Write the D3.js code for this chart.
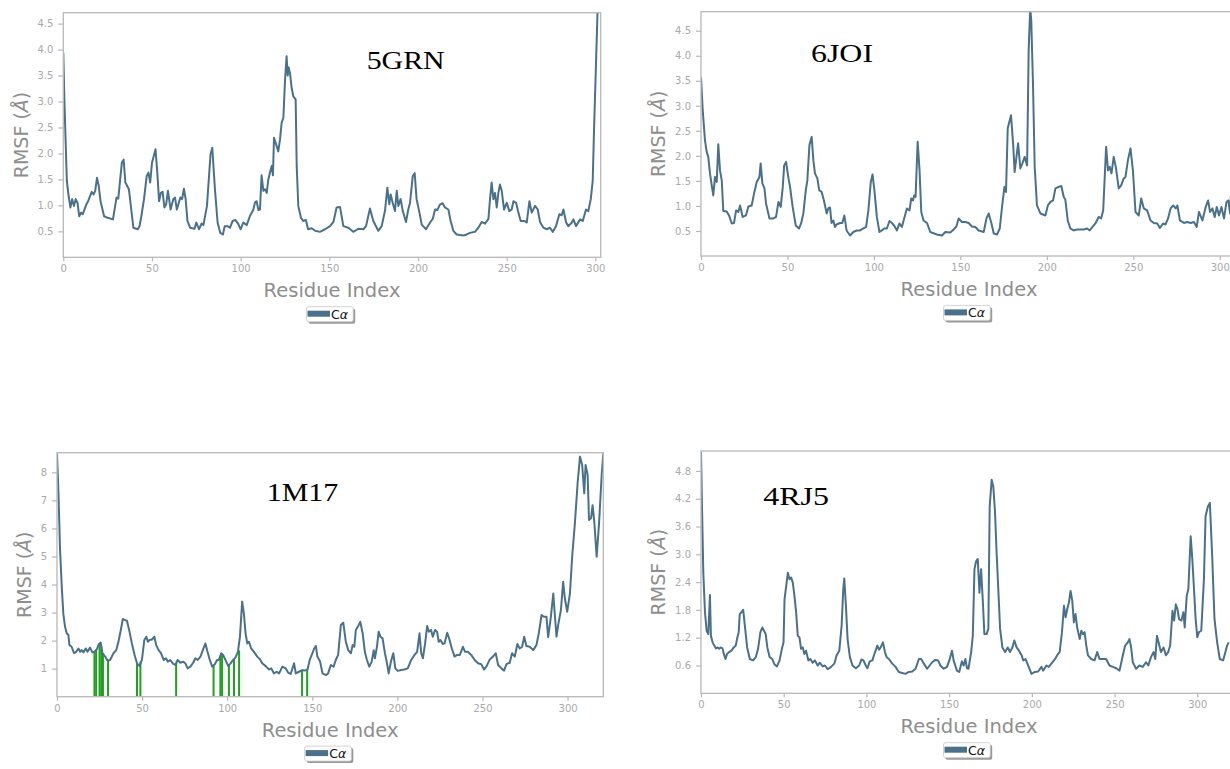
<!DOCTYPE html>
<html>
<head>
<meta charset="utf-8">
<script src="https://cdn.jsdelivr.net/npm/d3@7"></script>
<style>
  html, body { margin: 0; padding: 0; background: #fff; }
  svg { display: block; overflow: hidden; }
</style>
</head>
<body>
<svg id="chart" width="1230" height="769"></svg>
<script>
// RMSF of C-alpha atoms per residue, one array of [residue, RMSF] per structure
const rmsf5GRN = [[0,3.94],[0.6,3.04],[2,1.47],[3,1.18],[4,0.96],[5,1.12],[6,0.99],[7,1.12],[8,1.05],[9,0.79],[10,0.86],[11,0.83],[13,1.02],[14,1.08],[16,1.26],[17,1.21],[18,1.28],[19,1.53],[20,1.37],[21,1.08],[23,0.79],[25,0.76],[28,0.73],[30,1.15],[31,1.13],[33,1.82],[34,1.88],[35,1.44],[37,1.31],[39.5,0.57],[42,0.54],[43,0.60],[44,0.79],[45.5,1.12],[47,1.56],[48,1.63],[49,1.44],[50,1.82],[52,2.08],[53,1.63],[54,1.08],[55,1.24],[56,1.26],[57,0.96],[58,1.02],[59,1.28],[60.5,0.92],[62,1.12],[63,1.15],[64,0.92],[66,1.15],[67,1.12],[68,1.32],[69,1.12],[70,0.70],[71.5,0.57],[74,0.55],[75,0.67],[76.5,0.54],[78,0.65],[79,0.62],[81,0.99],[83,1.98],[84,2.11],[85.5,1.31],[87,0.67],[88.5,0.47],[90,0.44],[91,0.60],[92.5,0.60],[94,0.57],[95.5,0.70],[97,0.72],[98.5,0.65],[100,0.54],[101.5,0.67],[103.4,0.62],[105.3,0.80],[107.1,0.91],[108.1,1.06],[109,1.08],[110,0.91],[110.9,0.92],[111.8,1.58],[112.8,1.28],[113.7,1.31],[114.7,1.24],[115.6,1.50],[116.5,1.63],[117.5,1.76],[118.2,1.58],[118.8,2.30],[120.3,2.14],[121.2,2.04],[122.2,2.27],[123.1,2.59],[124.1,2.69],[125,3.40],[125.9,3.87],[126.5,3.50],[127,3.66],[127.8,3.55],[128.8,3.25],[129.7,3.10],[131,3.04],[131.6,1.76],[132.5,0.99],[134,0.76],[135.3,0.70],[136.8,0.72],[138,0.54],[140,0.56],[142,0.51],[144.7,0.49],[147.6,0.54],[150.4,0.60],[152.3,0.68],[154.1,0.96],[156,0.97],[157.9,0.60],[160.7,0.57],[163.5,0.49],[166.4,0.55],[169.2,0.54],[170.7,0.60],[172.9,0.94],[174.8,0.70],[177.6,0.51],[179.5,0.60],[181.4,0.90],[182.7,1.34],[183.8,1.02],[184.6,1.21],[185.7,1.05],[187,0.89],[188,1.28],[188.9,0.99],[190.2,1.12],[191.4,0.89],[193.2,0.68],[194.5,0.92],[195.5,1.05],[197,1.56],[198.1,1.62],[199.2,1.12],[200.8,0.86],[202.1,0.63],[204.5,0.54],[206.8,0.67],[208.3,0.74],[209.6,0.92],[210.9,0.91],[212.4,1.02],[213.9,1.04],[215.2,0.96],[217.1,0.92],[218.4,0.70],[219.9,0.51],[221.8,0.44],[225.6,0.42],[227.4,0.44],[229.3,0.47],[232.1,0.49],[234,0.57],[235.9,0.68],[237.8,0.65],[239.7,0.74],[240.6,1.12],[241.5,1.44],[242.5,1.12],[243.4,1.24],[244.4,0.96],[245.3,1.24],[246.2,1.40],[247.2,1.28],[248.5,0.92],[250,1.05],[251.5,0.89],[252.8,0.92],[253.8,1.08],[255.3,1.05],[256.6,0.86],[257.9,0.70],[259.8,0.70],[261.3,0.67],[262.8,1.08],[264.1,0.86],[266,0.99],[267.5,0.92],[268.8,0.68],[270.7,0.57],[272.6,0.54],[274.4,0.57],[276,0.49],[277.8,0.60],[279.7,0.83],[281,0.81],[282,0.92],[283.5,0.67],[284.8,0.60],[286.7,0.67],[287.6,0.73],[289.1,0.60],[291.4,0.73],[292.9,0.70],[294.7,0.92],[296,0.89],[297.4,1.12],[298.5,1.47],[299.2,2.40],[300.3,3.68],[301.2,4.72],[301.8,5.20]];

const rmsf6JOI = [[0,3.57],[1,2.91],[2.3,2.31],[3.3,2.08],[4.2,1.98],[5.2,1.65],[6.2,1.41],[7.1,1.21],[8.1,1.58],[9.1,1.48],[10,2.23],[11,1.71],[12,1.51],[12.9,0.90],[14.9,0.89],[16.2,0.81],[17.8,0.65],[19.1,0.66],[20.3,0.91],[21.6,0.88],[22.6,1.01],[24.1,0.78],[26,0.81],[27.4,0.99],[29.3,1.01],[30.7,1.25],[32.2,1.48],[33.8,1.58],[34.5,1.85],[35.5,1.45],[36.7,1.35],[37.6,1.05],[39.6,0.75],[41.9,0.75],[43.4,0.78],[44.8,1.08],[46.1,0.98],[47.3,1.38],[48.1,1.81],[49.2,1.88],[50.6,1.55],[51.5,1.38],[53,0.98],[54.8,0.61],[56.7,0.55],[57.9,0.65],[59.2,0.85],[60.6,1.31],[61.5,1.51],[62.7,2.21],[64,2.38],[65,1.91],[65.9,1.65],[67.3,1.55],[68.4,1.31],[69.8,1.28],[71.1,1.11],[72.7,0.85],[73.6,0.95],[74.6,0.97],[75.5,0.66],[76.5,0.71],[77.5,0.58],[78.4,0.63],[80.4,0.66],[81.7,0.66],[82.9,0.81],[84.2,0.51],[86.2,0.41],[88.1,0.48],[90,0.51],[92,0.51],[93.9,0.55],[95.5,0.58],[96.8,0.91],[98.2,1.48],[99.2,1.63],[100.3,1.31],[101.7,0.78],[103.2,0.48],[104.6,0.51],[105.9,0.55],[107.5,0.55],[109,0.70],[110.4,0.66],[111.7,0.61],[113.3,0.51],[114.8,0.65],[116.2,0.58],[117.5,0.75],[119.1,0.95],[120.6,0.91],[121.6,1.15],[122.6,1.11],[123.3,1.21],[124.1,1.18],[125.3,2.28],[126.4,1.71],[127.4,0.88],[128.7,0.71],[130.7,0.66],[132.6,0.48],[136.4,0.43],[139.4,0.41],[141.3,0.48],[144.2,0.47],[146.1,0.53],[147.7,0.59],[149,0.75],[150.9,0.68],[152.9,0.68],[154.8,0.66],[156.7,0.59],[158.7,0.58],[160.6,0.51],[163.5,0.48],[165.1,0.75],[166.4,0.85],[168,0.65],[169.3,0.45],[171.2,0.43],[172.8,0.55],[174.1,0.98],[175.5,1.38],[176.4,1.28],[177.4,2.55],[179.3,2.81],[180.5,2.25],[181.4,1.68],[183.4,2.25],[184.7,1.75],[185.9,1.85],[187.2,1.98],[188.6,1.81],[189.5,4.11],[190.4,4.95],[191,4.71],[192,3.45],[193,1.78],[194.3,1.01],[196.3,0.85],[199.2,0.81],[200.6,1.01],[202.1,1.08],[203.6,1.11],[205,1.35],[206.9,1.38],[208.4,1.40],[209.8,1.18],[210.7,1.13],[212.1,0.71],[213.6,0.55],[215.5,0.51],[217.5,0.53],[219.4,0.53],[221.3,0.53],[223.3,0.55],[224.8,0.51],[226.2,0.57],[228.1,0.65],[230,0.78],[231.4,0.75],[232.6,0.91],[234.3,2.18],[235.4,1.71],[236.4,1.78],[237.4,1.65],[238.7,1.98],[239.9,1.78],[241.6,1.35],[243,1.41],[244.5,1.55],[245.5,1.58],[246.9,1.91],[248.4,2.15],[249.8,1.71],[251.3,0.88],[253.2,0.81],[254.6,1.15],[256.1,0.95],[258,0.91],[260,0.71],[261.9,0.66],[263.9,0.65],[265.4,0.56],[267.2,0.65],[268.7,0.63],[270.1,0.75],[271.6,0.95],[273.1,1.01],[274.5,0.95],[275.5,1.01],[277,0.71],[279.3,0.66],[281.2,0.68],[283.2,0.66],[285.1,0.68],[286.7,0.58],[288,0.88],[290,0.71],[291.9,0.98],[293.3,1.11],[294.4,0.88],[295.8,0.95],[297.1,0.78],[298.3,0.98],[299.6,0.81],[301,0.98],[302.5,0.75],[303.9,1.08],[305,1.11],[306,0.85],[306.6,1.31],[307.5,1.10]];

const rmsf1M17 = [[0,8.68],[0.8,7.37],[1.8,5.23],[2.8,3.92],[3.7,2.97],[4.7,2.50],[5.7,2.26],[6.7,2.20],[7.3,1.84],[8.6,1.78],[10,1.55],[11.2,1.60],[12.6,1.72],[13.6,1.60],[14.5,1.66],[15.5,1.58],[16.9,1.72],[17.9,1.60],[19.4,1.75],[20.8,1.58],[22,1.60],[23.4,1.69],[24.6,1.88],[25.7,1.93],[26.7,1.55],[28.3,1.43],[29.7,1.28],[31.2,1.31],[33.2,1.55],[34.8,1.66],[36.1,1.96],[37.5,2.38],[38.7,2.77],[40.1,2.73],[41.1,2.71],[42.6,2.32],[44,1.90],[45.6,1.49],[47,1.19],[48.5,1.09],[49.9,1.31],[51.3,2.02],[52.5,2.14],[53.4,1.96],[54.4,2.02],[55.8,2.04],[57.2,2.14],[58.3,1.84],[59.7,1.66],[61.1,1.55],[62.7,1.31],[64,1.37],[65.2,1.25],[66.6,1.31],[68,1.19],[69.5,1.13],[70.9,1.31],[72.5,1.21],[74.1,1.25],[75.4,1.19],[76.8,1.01],[78.4,1.07],[80,1.21],[81.3,1.37],[82.7,1.31],[84.3,1.43],[85.7,1.66],[87.2,1.90],[88.2,1.66],[89.8,1.31],[91.2,1.07],[92.7,1.16],[94.1,1.31],[95.1,1.31],[96.5,1.55],[97.6,1.49],[99,1.31],[100.6,1.09],[102,1.19],[103.5,1.31],[104.9,1.40],[106.3,1.60],[107.5,2.14],[108.8,3.39],[109.8,2.97],[110.8,2.26],[111.8,1.90],[112.8,1.96],[114.1,1.72],[115.7,1.60],[117.7,1.43],[119.3,1.33],[120.6,1.19],[122.6,1.09],[124.6,0.97],[125.9,1.01],[127.5,0.83],[129.1,0.89],[130.5,0.83],[132.4,1.07],[134.4,1.01],[135.8,0.86],[137.3,0.81],[139.3,1.19],[140.3,0.83],[142.2,0.89],[144.2,0.95],[145.6,0.93],[147.2,0.97],[148.5,1.31],[150.1,1.55],[151.1,1.72],[152.1,1.81],[153,1.43],[154.6,1.25],[156,0.83],[158,0.77],[159.3,0.83],[160.9,1.13],[162.5,1.07],[163.8,1.31],[165.2,1.49],[166.8,2.56],[168.2,2.64],[169.7,1.96],[171.1,1.66],[172.7,1.55],[173.7,1.84],[174.7,1.78],[175.6,2.38],[177,2.52],[178.2,2.67],[179.6,2.26],[180.9,1.60],[182.1,1.31],[183.5,1.07],[184.9,1.25],[186.1,1.66],[186.8,1.37],[188,1.78],[189,2.32],[190,2.14],[191.3,2.08],[192.7,1.55],[193.9,1.19],[194.9,0.83],[196.2,1.25],[197.6,1.55],[198.8,1.01],[200.2,0.92],[202.2,0.95],[204.1,0.97],[206.1,1.01],[208.1,1.31],[210.1,1.49],[211.6,1.60],[213,2.26],[214,1.55],[215,1.37],[216.3,1.90],[217.5,2.52],[218.5,2.32],[219.8,2.38],[220.8,2.14],[222.2,2.38],[223.3,2.32],[224.3,1.96],[225.3,2.02],[226.7,1.88],[227.7,1.90],[229.3,2.28],[230.6,2.04],[232,1.72],[233.6,1.43],[235.1,1.49],[236.7,1.49],[238.5,1.78],[239.8,1.60],[241.4,1.60],[243.4,1.49],[245.4,1.31],[247.4,1.19],[249.3,1.16],[250.9,0.97],[252.3,1.07],[254.3,1.33],[256.2,1.43],[257.8,1.55],[259.2,1.13],[261.1,1.01],[262.7,0.93],[264.1,1.16],[266,1.21],[267.4,1.55],[269,1.43],[270.5,1.88],[271.9,1.72],[273.3,1.78],[274.5,2.14],[275.8,1.81],[277.8,1.78],[279.8,1.66],[281.7,1.84],[283.1,2.26],[284.7,2.91],[286.1,2.85],[287.6,2.85],[288.6,2.12],[290.2,2.85],[291.6,3.68],[292.6,2.85],[293.5,2.14],[294.5,2.56],[296.1,3.09],[297.4,4.10],[298.4,3.51],[299.8,3.03],[301.4,3.68],[302.7,4.99],[304.3,6.18],[305.9,7.61],[307.3,8.56],[308.6,8.26],[309.8,7.25],[310.6,8.26],[311.8,7.90],[312.6,6.30],[313.8,6.36],[314.7,6.83],[315.7,6.24],[317.1,4.99],[318.5,6.18],[320.1,7.96],[321,8.68]];

const rmsf4RJ5 = [[0,5.21],[0.6,4.03],[1.4,2.60],[2.4,1.75],[3.4,1.35],[4.4,1.28],[5.4,2.12],[6,1.24],[7,1.10],[8,1.03],[9,0.97],[10,0.99],[11,0.96],[11.8,0.99],[13,0.97],[13.8,0.85],[14.8,0.74],[15.8,0.85],[17,0.89],[18.4,0.92],[19.8,0.99],[21,1.03],[22,1.21],[22.8,1.32],[23.4,1.71],[24.4,1.75],[25.5,1.80],[26.5,1.46],[27.9,0.99],[29.5,0.74],[31.5,0.71],[33.1,0.78],[34.5,0.96],[35.9,1.32],[37.1,1.42],[38.1,1.35],[39.1,1.28],[40.1,0.99],[41.5,0.78],[43.1,0.74],[44.5,0.62],[45.9,0.58],[47.5,0.71],[48.9,0.96],[49.9,1.10],[50.5,2.03],[51.5,2.32],[52.5,2.60],[53.5,2.46],[54.5,2.50],[55.5,2.39],[56.5,2.10],[57.5,1.75],[58.5,1.24],[59.5,1.21],[60.5,0.96],[61.5,0.99],[62.5,0.85],[63.5,0.92],[64.9,0.71],[66.1,0.74],[67.5,0.66],[68.9,0.71],[70.5,0.60],[71.9,0.66],[73.5,0.58],[74.9,0.60],[76.6,0.52],[78.6,0.57],[80.6,0.64],[82,0.82],[83.6,0.92],[85,1.46],[86,2.25],[86.6,2.48],[87.6,1.89],[88.6,1.17],[90,0.78],[91.6,0.60],[93.6,0.54],[95.6,0.60],[97,0.73],[98.2,0.71],[99.6,0.60],[100.6,0.54],[102,0.69],[103.6,0.71],[105.2,0.89],[106.6,1.03],[107.6,0.94],[108.6,0.99],[110,1.10],[111.2,0.89],[112.2,0.78],[113.6,0.74],[115.6,0.64],[117.6,0.57],[119.6,0.46],[121.6,0.44],[123.6,0.42],[125.6,0.46],[127.7,0.47],[129.7,0.53],[131.7,0.74],[133.1,0.74],[134.7,0.64],[136.7,0.53],[139.7,0.67],[141.7,0.72],[143.3,0.71],[144.7,0.60],[146.7,0.53],[148.7,0.57],[150.1,0.71],[151.7,0.92],[152.7,0.71],[154.7,0.49],[156.1,0.46],[157.7,0.69],[158.8,0.60],[159.8,0.74],[160.8,0.54],[161.7,0.53],[163.3,0.89],[164.3,1.24],[165.3,2.68],[166.3,2.85],[167.3,2.90],[168.3,2.17],[169.3,2.68],[170.3,2.03],[171.3,1.28],[172.7,1.28],[173.7,1.39],[174.5,4.03],[175.7,4.61],[176.7,4.46],[177.7,3.93],[178.7,3.03],[179.7,2.25],[180.8,1.39],[182.2,0.99],[183.8,0.89],[185.4,0.99],[186.8,0.89],[188.2,0.99],[189.4,1.14],[190.8,0.99],[192.2,0.92],[193.8,0.82],[194.8,0.71],[196.2,0.74],[197.8,0.60],[199.8,0.42],[201.8,0.46],[203.8,0.47],[205.8,0.57],[206.8,0.49],[208.8,0.60],[210.2,0.57],[211.8,0.64],[213.8,0.73],[215.8,0.85],[216.8,0.89],[218.2,1.32],[219.4,1.89],[220.4,1.64],[221.4,1.82],[222.4,1.96],[223.4,2.21],[224.4,2.00],[225.4,1.53],[226.4,1.71],[227.4,1.42],[228.9,1.17],[229.9,1.35],[230.9,1.28],[231.9,1.32],[232.9,1.03],[233.9,0.82],[235.9,0.74],[237.9,0.71],[239.5,0.89],[240.9,0.74],[242.9,0.74],[244.9,0.74],[246.9,0.60],[248.9,0.57],[251,0.54],[253,0.49],[255,0.82],[256.4,1.03],[258,1.10],[259,1.17],[260,0.99],[261,0.67],[263,0.53],[265,0.60],[267,0.57],[269,0.67],[270.4,0.60],[272,0.78],[273.6,0.89],[274.6,0.74],[275.6,1.24],[276.6,1.10],[278,0.89],[279.6,0.99],[281,0.82],[282.4,0.89],[283.6,1.03],[285,1.78],[286,1.57],[287,1.92],[288,1.82],[289,1.60],[290.4,1.57],[291.6,1.75],[292.4,1.42],[293.6,2.10],[294.6,2.25],[296,3.39],[297,2.89],[298,2.25],[299,1.60],[300,1.21],[301,1.32],[302.4,1.35],[304,2.46],[305,3.82],[306.4,4.03],[307.6,4.11],[309,2.96],[310.4,1.60],[312,1.10],[313.6,0.74],[315.6,0.71],[317,0.89],[318,1.03],[319,1.10]];

// Ligand-contact residues of 1M17 and the RMSF height drawn for each contact bar
const contacts1M17 = [22, 23, 25, 26, 27, 30, 47, 49, 70, 92, 96, 97, 101, 104, 107, 144, 147];
const contactHeights1M17 = [1.60, 1.66, 1.88, 1.80, 1.55, 1.30, 1.19, 1.25, 1.20, 1.12, 1.45, 1.50, 1.15, 1.33, 1.65, 0.95, 0.97];

// Axis ticks
const xTicks = [0, 50, 100, 150, 200, 250, 300];
const yTicks5GRN = [0.5, 1.0, 1.5, 2.0, 2.5, 3.0, 3.5, 4.0, 4.5];
const yTicks6JOI = [0.5, 1.0, 1.5, 2.0, 2.5, 3.0, 3.5, 4.0, 4.5];
const yTicks1M17 = [1, 2, 3, 4, 5, 6, 7, 8];
const yTicks4RJ5 = [0.6, 1.2, 1.8, 2.4, 3.0, 3.6, 4.2, 4.8];

// Structure names
const titles = ["5GRN", "6JOI", "1M17", "4RJ5"];

const LINE = "#4a7189";
const FRAME = "#b8b8b8";
const svg = d3.select("#chart");

const panels = [
  { name: titles[0], data: rmsf5GRN, yTicks: yTicks5GRN, fmt: d3.format(".1f"),
    box: [63.3, 12.7, 600.7, 257.3], xMax: 303, yMax: 4.71,
    title: [366.7, 68.5, 78], yLabelX: 21 },
  { name: titles[1], data: rmsf6JOI, yTicks: yTicks6JOI, fmt: d3.format(".1f"),
    box: [701, 11.7, 1237, 256], xMax: 310, yMax: 4.88,
    title: [811, 61.7, 62], yLabelX: 658 },
  { name: titles[2], data: rmsf1M17, yTicks: yTicks1M17, fmt: d3.format("d"),
    box: [57, 452.7, 603.3, 696.7], xMax: 321, yMax: 8.7,
    title: [266.7, 501, 71.6], yLabelX: 24,
    contacts: contacts1M17, contactHeights: contactHeights1M17 },
  { name: titles[3], data: rmsf4RJ5, yTicks: yTicks4RJ5, fmt: d3.format(".1f"),
    box: [701, 451, 1237, 693.3], xMax: 324, yMax: 5.23,
    title: [763.3, 505, 65.7], yLabelX: 657.5 }
];

panels.forEach((p, i) => {
  const [x0, y0, x1, y1] = p.box;
  const x = d3.scaleLinear().domain([0, p.xMax]).range([x0, x1]);
  const y = d3.scaleLinear().domain([0, p.yMax]).range([y1, y0]);
  const g = svg.append("g");

  const clipId = "clip" + i;
  svg.append("clipPath").attr("id", clipId)
    .append("rect").attr("x", x0).attr("y", y0).attr("width", x1 - x0).attr("height", y1 - y0);

  // axes
  const xa = g.append("g").attr("transform", `translate(0,${y1})`)
    .call(d3.axisBottom(x).tickValues(xTicks).tickSize(4).tickPadding(4).tickFormat(d3.format("d")));
  const ya = g.append("g").attr("transform", `translate(${x0},0)`)
    .call(d3.axisLeft(y).tickValues(p.yTicks).tickSize(5).tickPadding(5).tickFormat(p.fmt));
  [xa, ya].forEach(a => {
    a.select(".domain").remove();
    a.selectAll(".tick line").attr("stroke", FRAME).attr("stroke-width", 1.2);
    a.selectAll(".tick text").attr("fill", "#a9a9a9")
      .style("font-family", "DejaVu Sans").style("font-size", "10px");
  });

  // contact bars
  if (p.contacts) {
    g.append("g").attr("clip-path", `url(#${clipId})`)
      .selectAll("rect").data(p.contacts).join("rect")
      .attr("x", d => x(d) - 1).attr("width", 2)
      .attr("y", (d, k) => y(p.contactHeights[k]))
      .attr("height", (d, k) => y(0) - y(p.contactHeights[k]))
      .attr("fill", "#22a022");
  }

  // RMSF line
  g.append("path").datum(p.data)
    .attr("clip-path", `url(#${clipId})`)
    .attr("fill", "none").attr("stroke", LINE).attr("stroke-width", 2)
    .attr("stroke-linejoin", "round")
    .attr("d", d3.line().x(d => x(d[0])).y(d => y(d[1])));

  // frame
  g.append("rect").attr("x", x0).attr("y", y0).attr("width", x1 - x0).attr("height", y1 - y0)
    .attr("fill", "none").attr("stroke", FRAME).attr("stroke-width", 1.3);

  // structure title
  g.append("text").attr("x", p.title[0]).attr("y", p.title[1])
    .attr("textLength", p.title[2]).attr("lengthAdjust", "spacingAndGlyphs")
    .style("font-family", "Liberation Serif, Times New Roman, serif").style("font-size", "25px")
    .attr("fill", "#000").text(p.name);

  // axis labels
  const cx = (x0 + x1) / 2;
  g.append("text").attr("x", cx).attr("y", y1 + 40).attr("text-anchor", "middle")
    .style("font-family", "DejaVu Sans").style("font-size", "19.5px").attr("fill", "#8e8e8e")
    .text("Residue Index");
  const yl = g.append("text")
    .attr("transform", `translate(${p.yLabelX},${(y0 + y1) / 2}) rotate(-90)`)
    .attr("text-anchor", "middle").attr("dominant-baseline", "central")
    .style("font-family", "DejaVu Sans").style("font-size", "19px").attr("fill", "#8e8e8e");
  yl.append("tspan").text("RMSF (");
  yl.append("tspan").style("font-style", "italic").text("Å");
  yl.append("tspan").text(")");

  // legend
  const lx = cx - 25.5, ly = y1 + 49.4;
  const lg = g.append("g");
  lg.append("rect").attr("x", lx + 2).attr("y", ly + 2).attr("width", 46.7).attr("height", 15)
    .attr("rx", 2).attr("fill", "#9a9a9a");
  lg.append("rect").attr("x", lx).attr("y", ly).attr("width", 46.7).attr("height", 15)
    .attr("rx", 2).attr("fill", "#fff").attr("stroke", "#c8c8c8").attr("stroke-width", 0.8);
  lg.append("rect").attr("x", lx + 1).attr("y", ly + 4).attr("width", 22.5).attr("height", 6)
    .attr("fill", LINE);
  const lt = lg.append("text").attr("x", lx + 24.5).attr("y", ly + 12)
    .style("font-family", "DejaVu Sans").style("font-size", "12.5px").attr("fill", "#111");
  lt.append("tspan").text("C");
  lt.append("tspan").style("font-style", "italic").text("α");
});
</script>
</body>
</html>
